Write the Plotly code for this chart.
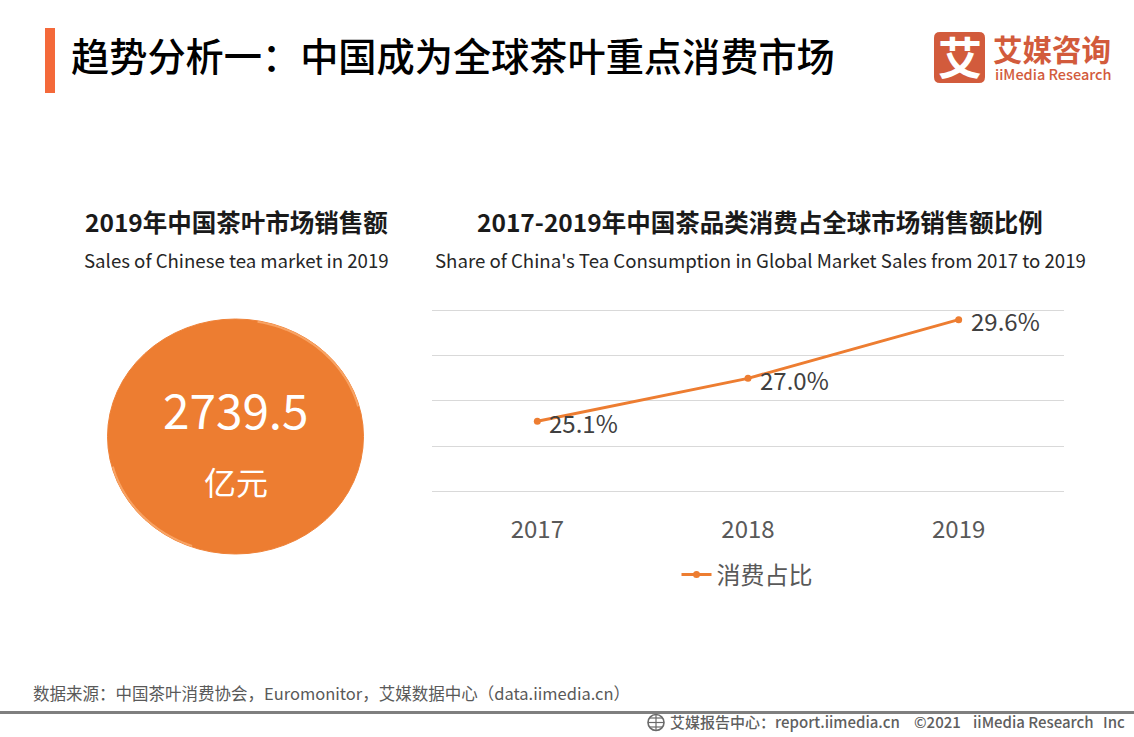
import math
import plotly.graph_objects as go

W, H = 1134, 737
FONT = "Noto Sans CJK SC"

years = ["2017", "2018", "2019"]
share = [25.1, 27.0, 29.6]
series_name = "消费占比"
total_sales = "2739.5"
total_unit = "亿元"


def px(x):
    return x / W


def py(y):
    return 1 - y / H


fig = go.Figure()
fig.add_trace(go.Scatter(
    x=years, y=share, mode="lines+markers", name=series_name,
    line=dict(color="#ed7d31", width=3),
    marker=dict(color="#ed7d31", size=7),
    cliponaxis=False, hoverinfo="skip",
))

shapes = []


def rect(x0, y0, x1, y1, color):
    shapes.append(dict(type="rect", xref="paper", yref="paper", x0=px(x0), x1=px(x1),
                       y0=py(y0), y1=py(y1), fillcolor=color, line=dict(width=0), layer="below"))


def ellipse(cx, cy, rx, ry, fill, line=None, lw=0):
    shapes.append(dict(type="circle", xref="paper", yref="paper", x0=px(cx - rx), x1=px(cx + rx),
                       y0=py(cy - ry), y1=py(cy + ry), fillcolor=fill,
                       line=dict(color=line or fill, width=lw), layer="below"))


def path(points, fill=None, line=None, lw=1):
    d = "M " + " L ".join(f"{px(a):.5f},{py(b):.5f}" for a, b in points)
    shapes.append(dict(type="path", xref="paper", yref="paper", path=d + (" Z" if fill else ""),
                       fillcolor=fill or "rgba(0,0,0,0)",
                       line=dict(color=line or "rgba(0,0,0,0)", width=lw if line else 0),
                       layer="below"))


def arc(cx, cy, rx, ry, a0, a1, color, lw):
    n = 24
    pts = []
    for k in range(n + 1):
        t = math.radians(a0 + (a1 - a0) * k / n)
        pts.append((cx + rx * math.cos(t), cy + ry * math.sin(t)))
    path(pts, line=color, lw=lw)


def round_rect(x0, y0, x1, y1, r, color):
    P = lambda a, b: f"{px(a):.5f},{py(b):.5f}"
    d = (f"M {P(x0 + r, y0)} L {P(x1 - r, y0)} Q {P(x1, y0)} {P(x1, y0 + r)} "
         f"L {P(x1, y1 - r)} Q {P(x1, y1)} {P(x1 - r, y1)} "
         f"L {P(x0 + r, y1)} Q {P(x0, y1)} {P(x0, y1 - r)} "
         f"L {P(x0, y0 + r)} Q {P(x0, y0)} {P(x0 + r, y0)} Z")
    shapes.append(dict(type="path", xref="paper", yref="paper", path=d, fillcolor=color,
                       line=dict(width=0), layer="below"))


# title marker
rect(45, 28, 55, 93, "#f4693a")
# circle
ellipse(235.5, 436.5, 128, 117.5, "#ed7d31", "#ef8238", 1)
arc(235.5, 436.5, 127, 116.5, -80, -15, "#f8a364", 2)
arc(235.5, 436.5, 127, 116.5, 110, 165, "#f8a364", 2)
# logo tile
round_rect(934, 32, 985, 83, 6, "#d25b3c")
# footer rule
rect(0, 711, W, 714, "#7f7f7f")
# globe icon
ellipse(656, 722.5, 8, 8, "#ffffff", "#6a6a6a", 1.6)
path([(648, 722.5), (664, 722.5)], line="#6a6a6a", lw=1.2)
path([(656, 714.5), (656, 730.5)], line="#6a6a6a", lw=1.2)
path([(650, 718), (662, 718)], line="#6a6a6a", lw=1.2)
path([(650, 727), (662, 727)], line="#6a6a6a", lw=1.2)

ann = []


def text(x, y, s, size, color, anchor="left", weight=400):
    ann.append(dict(xref="paper", yref="paper", x=px(x), y=py(y), text=s, showarrow=False,
                    xanchor=anchor, yanchor="middle", align=anchor,
                    font=dict(family=FONT, size=size, color=color, weight=weight)))


text(69, 55, "趋势分析一\uff1a中国成为全球茶叶重点消费市场", 38.2, "#000000", weight=500)
text(236, 221, "2019年中国茶叶市场销售额", 24.5, "#1a1a1a", "center", 700)
text(236, 259, "Sales of Chinese tea market in 2019", 18.65, "#262626", "center")
text(760.5, 221, "2017-2019年中国茶品类消费占全球市场销售额比例", 24.5, "#1a1a1a", "center", 700)
text(760.5, 259, "Share of China's Tea Consumption in Global Market Sales from 2017 to 2019", 18.65, "#262626", "center")
text(235.5, 408, total_sales, 47.7, "#ffffff", "center")
text(235.5, 481, total_unit, 32, "#ffffff", "center")
text(959.5, 56, "艾", 44, "#ffffff", "center", 700)
text(991, 48, "艾媒咨询", 29.5, "#d25b3c", "left", 700)
text(993, 74, "iiMedia Research", 14.5, "#d25b3c", "left", 500)
text(30.5, 693, "数据来源\uff1a中国茶叶消费协会\uff0cEuromonitor\uff0c艾媒数据中心\uff08data.iimedia.cn\uff09", 16.5, "#595959")
text(668, 721, "艾媒报告中心\uff1areport.iimedia.cn", 15, "#5f5f5f", weight=500)
text(912, 721, "©2021", 15, "#5f5f5f", weight=500)
text(970.5, 721, "iiMedia Research", 15, "#5f5f5f", weight=500)
text(1101, 721, "Inc", 15, "#5f5f5f", weight=500)

for i, v in enumerate(share):
    ann.append(dict(xref="x", yref="y", x=i, y=v, text=f"{v:.1f}%", showarrow=False,
                    xanchor="left", yanchor="middle", xshift=10, yshift=-1,
                    font=dict(family=FONT, size=24, color="#404040")))

fig.update_layout(
    width=W, height=H, autosize=False,
    margin=dict(l=0, r=0, t=0, b=0),
    paper_bgcolor="#ffffff", plot_bgcolor="#ffffff",
    font=dict(family=FONT),
    shapes=shapes, annotations=ann,
    xaxis=dict(domain=[px(432), px(1064)], type="category", range=[-0.5, 2.5],
               showgrid=False, zeroline=False, showline=True, mirror=True,
               linecolor="#d9d9d9", linewidth=1, ticks="",
               tickfont=dict(family=FONT, size=24, color="#595959"), ticklabelstandoff=17),
    yaxis=dict(domain=[py(491.3), py(310.6)], range=[22, 30], dtick=2, showticklabels=False,
               showgrid=True, gridcolor="#d9d9d9", gridwidth=1, zeroline=False, showline=False, ticks=""),
    showlegend=True,
    legend=dict(orientation="h", x=px(747), xanchor="center", y=py(575), yanchor="middle",
                font=dict(family=FONT, size=24, color="#595959"), bgcolor="rgba(0,0,0,0)",
                itemwidth=30),
)

fig.write_html("out.html", config=dict(displayModeBar=False),
               post_script="document.body.style.margin='0';")
